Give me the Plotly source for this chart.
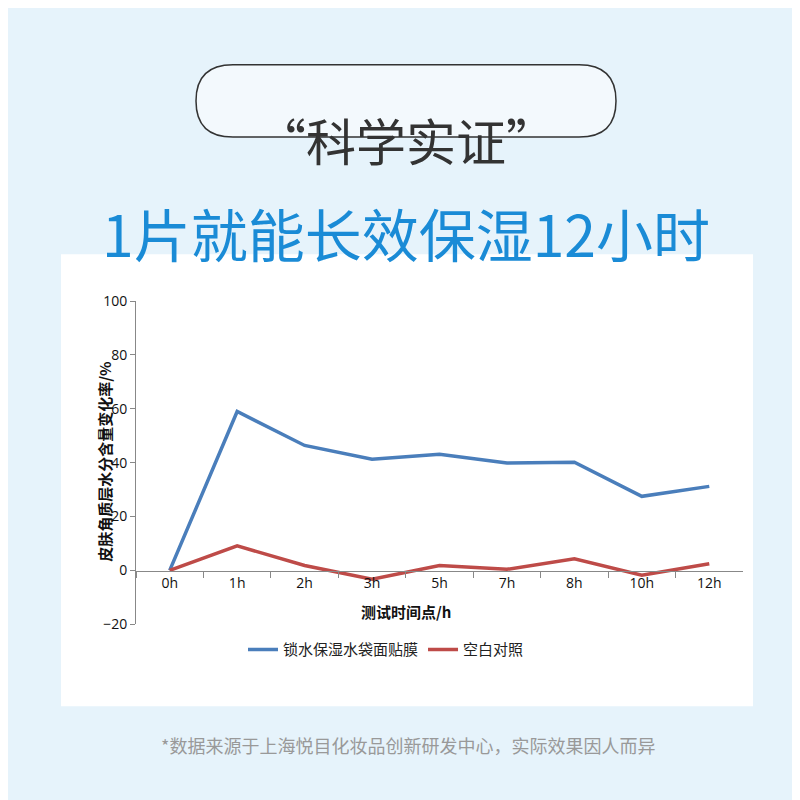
import plotly.graph_objects as go

categories = ["0h", "1h", "2h", "3h", "5h", "7h", "8h", "10h", "12h"]
mask_values = [0, 59.0, 46.4, 41.3, 43.1, 39.9, 40.2, 27.5, 31.2]
blank_values = [0, 9.1, 1.8, -3.3, 1.8, 0.4, 4.3, -1.8, 2.5]
series_names = ["锁水保湿水袋面贴膜", "空白对照"]

F = "Noto Sans CJK SC"
fig = go.Figure()
fig.add_trace(go.Scatter(x=categories, y=mask_values, mode="lines", name=series_names[0],
                         line=dict(color="#4a7ebb", width=3.5)))
fig.add_trace(go.Scatter(x=categories, y=blank_values, mode="lines", name=series_names[1],
                         line=dict(color="#be4b48", width=3.5)))

def rr(x0, y0, x1, y1, r):
    Y = lambda y: 1 - y / 800
    X = lambda x: x / 800
    return (f"M{X(x0+r)},{Y(y0)} L{X(x1-r)},{Y(y0)} Q{X(x1)},{Y(y0)} {X(x1)},{Y(y0+r)} "
            f"L{X(x1)},{Y(y1-r)} Q{X(x1)},{Y(y1)} {X(x1-r)},{Y(y1)} L{X(x0+r)},{Y(y1)} "
            f"Q{X(x0)},{Y(y1)} {X(x0)},{Y(y1-r)} L{X(x0)},{Y(y0+r)} Q{X(x0)},{Y(y0)} {X(x0+r)},{Y(y0)} Z")

shapes = [
    dict(type="rect", xref="paper", yref="paper", x0=53/800, x1=745/800, y0=1-705/800, y1=1-242/800,
         fillcolor="white", line=dict(width=0), layer="below"),
    dict(type="path", xref="paper", yref="paper", path=rr(188, 48, 608, 122, 37),
         fillcolor="rgba(255,255,255,0.5)", line=dict(color="#333333", width=1.5), layer="below"),
]

def ann(text, x, y, size, color, **kw):
    return dict(text=text, x=x/800, y=1-y/800, xref="paper", yref="paper", showarrow=False,
                font=dict(family=F, size=size, color=color), **kw)

annotations = [
    ann("“科学实证”", 398, 85, 50, "#333333"),
    ann("1片就能长效保湿12小时", 398, 175, 57, "#1a8bd6"),
    ann("*数据来源于上海悦目化妆品创新研发中心，实际效果因人而异", 400, 760, 18, "#999999"),
    ann("<b>测试时间点/h</b>", 398, 621, 15, "#111"),
    ann("<b>皮肤角质层水分含量变化率/%</b>", 84, 455, 15, "#111", textangle=-90),
]

fig.update_layout(
    width=800, height=800, margin=dict(l=0, r=0, t=0, b=0),
    paper_bgcolor="#e6f3fb", plot_bgcolor="rgba(0,0,0,0)",
    shapes=shapes, annotations=annotations,
    font=dict(family=F, color="#111"),
    legend=dict(orientation="h", x=235/800, y=1-647/800, xanchor="left", yanchor="middle",
                font=dict(family=F, size=15, color="#222"), bgcolor="rgba(0,0,0,0)"),
    xaxis=dict(domain=[128/800, 735/800], anchor="free", position=1-566/800, showline=True,
               linecolor="#888", linewidth=1, ticks="outside", tickson="boundaries", ticklen=6, tickcolor="#888",
               showgrid=False, tickfont=dict(family="Open Sans", size=14, color="#111"), range=[-0.5, 8.5]),
    yaxis=dict(domain=[1-621/800, 1-290/800], range=[-20, 100], dtick=20, showline=True,
               linecolor="#888", linewidth=1, ticks="outside", ticklen=5, tickcolor="#888", showgrid=False,
               zeroline=False, tickfont=dict(family="Open Sans", size=14, color="#111")),
)
fig.write_html("out.html")
